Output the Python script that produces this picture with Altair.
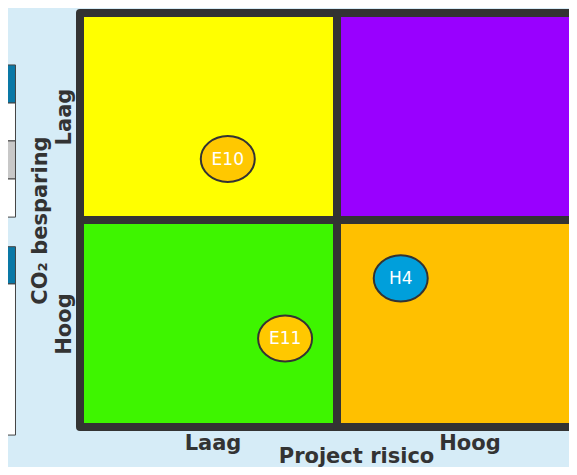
import altair as alt
import pandas as pd

# ---- data -------------------------------------------------------------
# quadrants: project risk (x) vs CO2 saving (y), 0-1 = first class, 1-2 = second
quad_x = [0, 1, 0, 1]
quad_x2 = [1, 2, 1, 2]
quad_y = [1, 1, 0, 0]
quad_y2 = [2, 2, 1, 1]
quad_colors = ["#ffff00", "#9900ff", "#3ef500", "#ffc000"]

# projects placed in the matrix
project_names = ["E10", "E11", "H4"]
risk_values = [0.575, 0.798, 1.248]
saving_values = [1.295, 0.428, 0.718]
project_colors = ["#ffc800", "#ffc800", "#009fdb"]

# tick labels
tick_positions = [0.5, 1.5]
x_tick_labels = ["Laag", "Hoog"]   # left -> right
y_tick_labels = ["Hoog", "Laag"]   # bottom -> top

# fragments of the neighbouring tables at the left edge of the slide
side_y = [1.749, 1.565, 1.382, 1.198, 0.871, 0.691]
side_y2 = [1.565, 1.382, 1.198, 1.014, 0.691, -0.039]
side_colors = ["#0a78a6", "#ffffff", "#c8c8c8", "#ffffff", "#0a78a6", "#ffffff"]
side_x = -0.36
side_x2 = -0.251

# ---- layout constants ------------------------------------------------
X_UNIT = 257.0
PLOT_W = 489
PLOT_H = 414
X_MAX = PLOT_W / X_UNIT
TEXT = "#333333"
FONT = "DejaVu Sans"

quads = pd.DataFrame({"x": quad_x, "x2": quad_x2, "y": quad_y, "y2": quad_y2, "c": quad_colors})
pts = pd.DataFrame({"name": project_names, "risk": risk_values, "saving": saving_values, "c": project_colors})
side = pd.DataFrame({"x": [side_x] * len(side_y), "x2": [side_x2] * len(side_y),
                     "y": side_y, "y2": side_y2, "c": side_colors})

xs = alt.Scale(domain=[0, X_MAX], nice=False, zero=False)
ys = alt.Scale(domain=[0, 2], nice=False, zero=False)

x_expr = f"datum.value < 1 ? '{x_tick_labels[0]}' : '{x_tick_labels[1]}'"
y_expr = f"datum.value < 1 ? '{y_tick_labels[0]}' : '{y_tick_labels[1]}'"

x_axis = alt.Axis(values=tick_positions, labelExpr=x_expr, domain=False, ticks=False, tickSize=0,
                  grid=False, labelFont=FONT, labelFontSize=21, labelFontWeight="bold",
                  labelColor=TEXT, labelBaseline="alphabetic", labelPadding=22, labelOffset=4,
                  labelAngle=0,
                  title="Project risico", titleFont=FONT, titleFontSize=21, titleFontWeight="bold",
                  titleColor=TEXT, titleX=276, titleY=35, titleAlign="center",
                  titleBaseline="alphabetic", titleAngle=0)
y_axis = alt.Axis(values=tick_positions, labelExpr=y_expr, domain=False, ticks=False, tickSize=0,
                  grid=False, labelFont=FONT, labelFontSize=21, labelFontWeight="bold",
                  labelColor=TEXT, labelAngle=270, labelAlign="center", labelBaseline="alphabetic",
                  labelPadding=10,
                  title="CO₂ besparing", titleFont=FONT, titleFontSize=21, titleFontWeight="bold",
                  titleColor=TEXT, titleAngle=270, titleX=-34, titleY=207, titleAlign="center",
                  titleBaseline="alphabetic")

quad_layer = alt.Chart(quads).mark_rect(stroke="#333333", strokeWidth=8, strokeJoin="round").encode(
    x=alt.X("x:Q", scale=xs, axis=x_axis), x2="x2:Q",
    y=alt.Y("y:Q", scale=ys, axis=y_axis), y2="y2:Q",
    fill=alt.Fill("c:N", scale=None),
)

side_layer = alt.Chart(side).mark_rect(stroke="#444444", strokeWidth=1).encode(
    x=alt.X("x:Q", scale=xs), x2="x2:Q",
    y=alt.Y("y:Q", scale=ys), y2="y2:Q",
    fill=alt.Fill("c:N", scale=None),
)

ELLIPSE = "M-1,0A1,0.852,0,1,1,1,0A1,0.852,0,1,1,-1,0Z"
point_layer = alt.Chart(pts).mark_point(shape=ELLIPSE, size=2916, filled=True, opacity=1,
                                        stroke="#333333", strokeWidth=2).encode(
    x=alt.X("risk:Q", scale=xs),
    y=alt.Y("saving:Q", scale=ys),
    fill=alt.Fill("c:N", scale=None),
)

label_layer = alt.Chart(pts).mark_text(color="white", font=FONT, fontSize=17, baseline="middle",
                                       dy=1).encode(
    x=alt.X("risk:Q", scale=xs),
    y=alt.Y("saving:Q", scale=ys),
    text="name:N",
)

chart = alt.layer(quad_layer, side_layer, point_layer, label_layer).properties(
    width=PLOT_W, height=PLOT_H,
    autosize=alt.AutoSizeParams(type="none"),
    padding={"left": 72, "top": 5, "right": 0, "bottom": 40},
    background="#d6ecf7",
).configure_view(stroke=None)

chart.save("out.html", embed_options={"renderer": "svg", "actions": False})
